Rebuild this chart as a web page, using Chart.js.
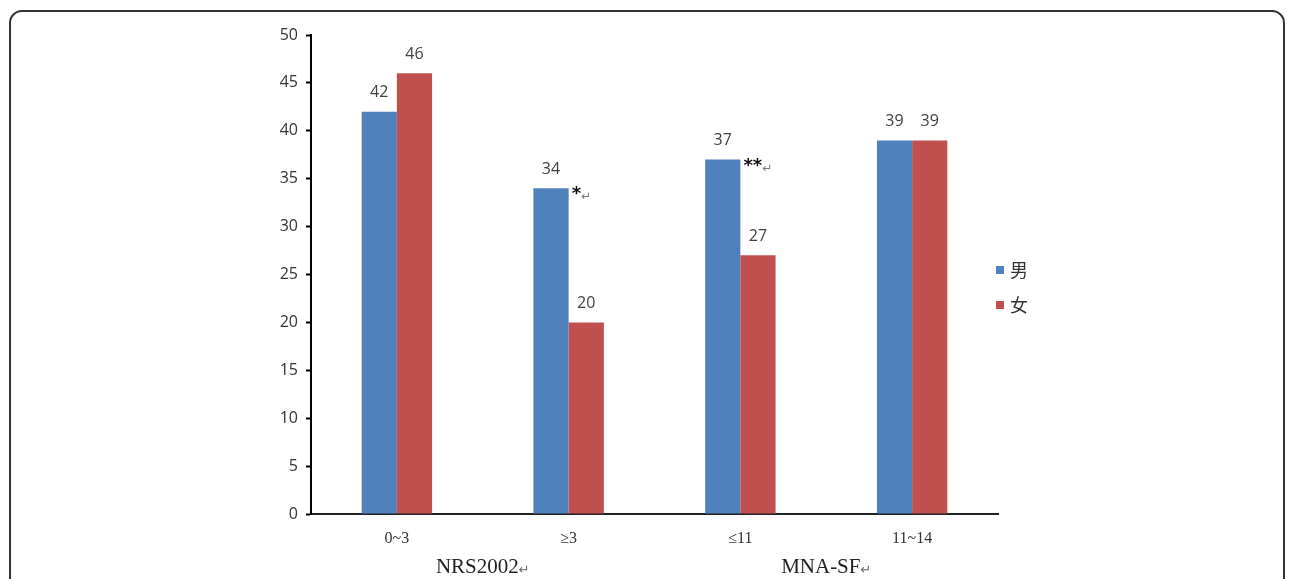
<!DOCTYPE html>
<html>
<head>
<meta charset="utf-8">
<script src="https://cdn.jsdelivr.net/npm/chart.js@4.4.1/dist/chart.umd.min.js"></script>
<style>
  body { margin: 0; background: #fff; }
  #wrap { position: relative; width: 1292px; height: 579px; overflow: hidden; }
  #card { position: absolute; left: 9px; top: 10px; width: 1276px; height: 620px;
          border: 2px solid #333; border-radius: 13px; box-sizing: border-box; }
  canvas { position: absolute; left: 0; top: 0; }
</style>
</head>
<body>
<div id="wrap">
  <div id="card"></div>
  <canvas id="grafico" width="1292" height="579"></canvas>
</div>
<script>
// datos
const categorias = ['0~3', '≥3', '≤11', '11~14'];
const hombres = [42, 34, 37, 39];
const mujeres = [46, 20, 27, 39];
const marcas = ['', '*', '**', ''];           // significancia sobre la barra azul
const grupos = ['NRS2002↵', 'MNA-SF↵'];        // cada grupo abarca 2 categorías
const ticksY = [0, 5, 10, 15, 20, 25, 30, 35, 40, 45, 50];

const AZUL = '#4F81BD';
const ROJO = '#C0504D';

// plugin para etiquetas, asteriscos, nombres de grupo y leyenda
const extras = {
  id: 'extras',
  afterDatasetsDraw(chart) {
    const ctx = chart.ctx;
    ctx.save();

    // valores encima de cada barra
    ctx.font = '16px "Open Sans", sans-serif';
    ctx.fillStyle = '#404040';
    ctx.textAlign = 'center';
    ctx.textBaseline = 'bottom';
    chart.data.datasets.forEach((ds, i) => {
      chart.getDatasetMeta(i).data.forEach((bar, j) => {
        ctx.fillText(ds.data[j], bar.x, bar.y - 11);
      });
    });

    // asteriscos junto a la barra de hombres
    const metaH = chart.getDatasetMeta(0);
    marcas.forEach((m, j) => {
      if (!m) return;
      const bar = metaH.data[j];
      const x0 = bar.x + bar.width / 2 + 3;
      ctx.textAlign = 'left';
      ctx.textBaseline = 'alphabetic';
      ctx.fillStyle = '#111';
      ctx.font = 'bold 18px "DejaVu Sans", sans-serif';
      ctx.fillText(m, x0, bar.y + 11);
      const w = ctx.measureText(m).width;
      ctx.fillStyle = '#777';
      ctx.font = '12px "DejaVu Sans", sans-serif';
      ctx.fillText('↵', x0 + w, bar.y + 12);
    });

    // nombres de los grupos debajo del eje (el ↵ final va más pequeño)
    const xs = chart.scales.x;
    ctx.textBaseline = 'alphabetic';
    ctx.textAlign = 'left';
    grupos.forEach((g, k) => {
      const cx = (xs.getPixelForValue(k * 2) + xs.getPixelForValue(k * 2 + 1)) / 2;
      const texto = g.slice(0, -1);
      const flecha = g.slice(-1);
      ctx.font = '21px "Liberation Serif", serif';
      const w1 = ctx.measureText(texto).width;
      ctx.font = '13px "DejaVu Sans", sans-serif';
      const w2 = ctx.measureText(flecha).width;
      const x0 = cx - (w1 + w2) / 2;
      ctx.fillStyle = '#222';
      ctx.font = '21px "Liberation Serif", serif';
      ctx.fillText(texto, x0, 573);
      ctx.fillStyle = '#666';
      ctx.font = '13px "DejaVu Sans", sans-serif';
      ctx.fillText(flecha, x0 + w1, 574);
    });

    // leyenda a la derecha
    const area = chart.chartArea;
    ctx.textAlign = 'left';
    ctx.textBaseline = 'middle';
    ctx.font = '18px "Noto Sans CJK SC", sans-serif';
    chart.data.datasets.forEach((ds, i) => {
      const y = 270 + i * 35;
      ctx.fillStyle = ds.backgroundColor;
      ctx.fillRect(area.right - 2, y - 4, 8, 8);
      ctx.fillStyle = '#333';
      ctx.fillText(ds.label, area.right + 12, y);
    });

    ctx.restore();
  }
};

new Chart(document.getElementById('grafico').getContext('2d'), {
  type: 'bar',
  data: {
    labels: categorias,
    datasets: [
      { label: '男', data: hombres, backgroundColor: AZUL, borderWidth: 0 },
      { label: '女', data: mujeres, backgroundColor: ROJO, borderWidth: 0 }
    ]
  },
  options: {
    responsive: false,
    animation: false,
    devicePixelRatio: 1,
    layout: { padding: { left: 0, right: 294, top: 35, bottom: 0 } },
    categoryPercentage: 0.41,
    barPercentage: 1,
    plugins: { legend: { display: false }, tooltip: { enabled: false } },
    scales: {
      x: {
        grid: { display: false, drawTicks: false },
        border: { color: '#222', width: 2 },
        ticks: { color: '#333', padding: 15, font: { family: '"Liberation Serif", serif', size: 16 } },
        afterFit: s => { s.height = 65; }
      },
      y: {
        min: 0,
        max: 50,
        afterBuildTicks: s => { s.ticks = ticksY.map(v => ({ value: v })); },
        grid: { drawOnChartArea: false, drawTicks: true, tickLength: 5, tickColor: '#000', tickWidth: 2 },
        border: { color: '#000', width: 2 },
        ticks: { color: '#333', padding: 8, font: { family: '"Open Sans", sans-serif', size: 16 } },
        afterFit: s => { s.width = 311; }
      }
    }
  },
  plugins: [extras]
});
</script>
</body>
</html>
